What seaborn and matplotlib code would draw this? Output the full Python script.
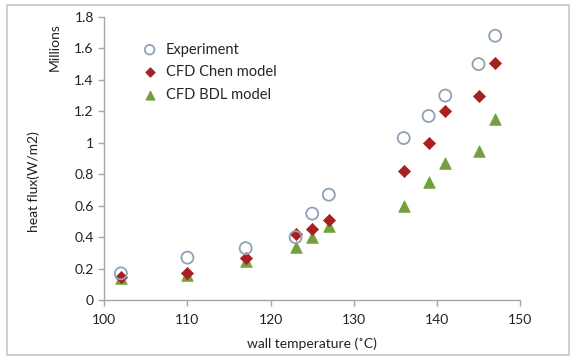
import numpy as np
import pandas as pd
import matplotlib
matplotlib.use("Agg")
import matplotlib.pyplot as plt
import seaborn as sns
from matplotlib.patches import Rectangle

temps = [102, 110, 117, 123, 125, 127, 136, 139, 141, 145, 147]
experiment = [0.17, 0.27, 0.33, 0.40, 0.55, 0.67, 1.03, 1.17, 1.30, 1.50, 1.68]
chen = [0.15, 0.17, 0.27, 0.42, 0.45, 0.51, 0.82, 1.00, 1.20, 1.30, 1.51]
bdl = [0.14, 0.16, 0.25, 0.34, 0.40, 0.47, 0.60, 0.75, 0.87, 0.95, 1.15]
series_names = ["Experiment", "CFD Chen model", "CFD BDL model"]
x_ticks = [100, 110, 120, 130, 140, 150]
y_ticks = [0, 0.2, 0.4, 0.6, 0.8, 1, 1.2, 1.4, 1.6, 1.8]

df = pd.DataFrame({
    "temp": temps * 3,
    "flux": experiment + chen + bdl,
    "series": [series_names[0]] * len(temps) + [series_names[1]] * len(temps) + [series_names[2]] * len(temps),
})

sns.set_theme(style="white")
plt.rcParams['font.family'] = ['Lato', 'DejaVu Sans']

fig = plt.figure(figsize=(5.76, 3.59), dpi=100)
ax = fig.add_axes([0.181, 0.164, 0.722, 0.789])

# outer chart border
fig.patches.append(Rectangle((0.012, 0.01), 0.975, 0.975, transform=fig.transFigure,
                             fill=False, edgecolor="#c8c8c8", linewidth=1.2))

styles = {
    "Experiment": dict(marker="o", facecolor="none", edgecolor="#8ea2b6", s=75, linewidth=1.3),
    "CFD Chen model": dict(marker="D", facecolor="#a8201f", edgecolor="#a8201f", s=38, linewidth=0.5),
    "CFD BDL model": dict(marker="^", facecolor="#73a03a", edgecolor="#73a03a", s=70, linewidth=0.5),
}
for name in series_names[::-1]:
    sub = df[df.series == name]
    st = styles[name]
    sns.scatterplot(data=sub, x="temp", y="flux", ax=ax, marker=st["marker"],
                    s=st["s"], facecolor=st["facecolor"], edgecolor=st["edgecolor"],
                    linewidth=st["linewidth"], label=name, zorder=3)

ax.set_xlim(100, 150)
ax.set_ylim(0, 1.8)
ax.set_xticks(x_ticks)
ax.set_yticks(y_ticks)
ax.set_yticklabels([("%g" % v) for v in y_ticks])
for side in ["top", "right"]:
    ax.spines[side].set_visible(False)
for side in ["left", "bottom"]:
    ax.spines[side].set_color("#a6a6a6")
    ax.spines[side].set_linewidth(1.0)
ax.tick_params(axis="both", which="both", direction="out", length=4, width=1,
               color="#a6a6a6", labelsize=10, labelcolor="#222222", bottom=True, left=True)
ax.tick_params(axis="x", pad=6)

ax.set_xlabel("wall temperature (\u02daC)", fontsize=10, color="#222222", labelpad=8)
ax.set_ylabel("heat flux(W/m2)", fontsize=10, color="#222222", labelpad=4)
ax.yaxis.set_label_coords(-0.155, 0.42)
fig.text(0.095, 0.87, "Millions", rotation=90, fontsize=10, color="#222222",
         ha="center", va="center")

handles, labels = ax.get_legend_handles_labels()
order = [labels.index(n) for n in series_names]
leg = ax.legend([handles[i] for i in order], [labels[i] for i in order],
                loc="upper left", bbox_to_anchor=(0.06, 0.93), frameon=False,
                fontsize=10.5, handletextpad=0.1, labelspacing=0.6, borderaxespad=0,
                markerscale=0.8)

fig.savefig("out.png", dpi=100, facecolor="white")
